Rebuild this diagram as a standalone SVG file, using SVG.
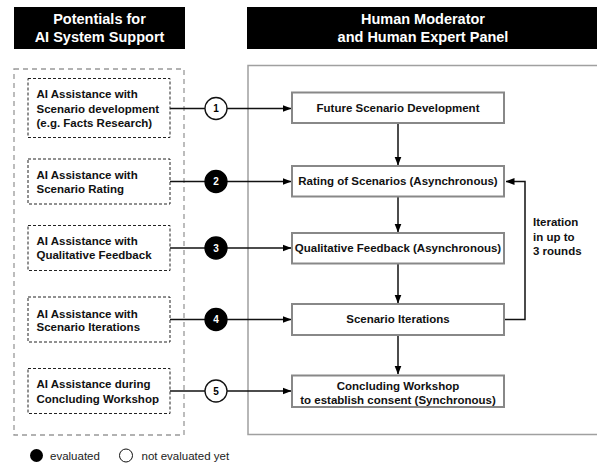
<svg xmlns="http://www.w3.org/2000/svg" width="597" height="466" viewBox="0 0 597 466">
<defs>
<marker id="arr" markerWidth="9" markerHeight="8" refX="8.5" refY="4" orient="auto" markerUnits="userSpaceOnUse">
<path d="M0,0.5 L9,4 L0,7.5 Z" fill="#000"/>
</marker>
<style>
text{font-family:"Liberation Sans",Arial,Helvetica,sans-serif;}
.hdr{fill:#fff;font-size:14.5px;font-weight:bold;text-anchor:middle;}
.lt{font-size:11.5px;font-weight:bold;fill:#111;}
.ct{font-size:11.5px;font-weight:bold;fill:#111;text-anchor:middle;}
.num{font-size:10px;font-weight:bold;text-anchor:middle;}
.leg{font-size:11.5px;fill:#222;}
.ai{fill:#fff;stroke:#222;stroke-width:1;stroke-dasharray:3,2;}
.step{fill:#fff;stroke:#888;stroke-width:2;}
.conn{fill:none;stroke:#111;stroke-width:1.5;}
</style>
</defs>
<rect width="597" height="466" fill="#fff"/>
<g id="header-left">
<rect x="14" y="7" width="171" height="42" fill="#000"/>
<text class="hdr" x="99.5" y="23.5">Potentials for</text>
<text class="hdr" x="99.5" y="41.5">AI System Support</text>
</g>
<g id="header-right">
<rect x="247" y="7" width="350" height="42" fill="#000"/>
<text class="hdr" x="423" y="23.5">Human Moderator</text>
<text class="hdr" x="423" y="41.5">and Human Expert Panel</text>
</g>
<g id="panel-left">
<rect x="14" y="69" width="170" height="366" fill="none" stroke="#999" stroke-width="1.3" stroke-dasharray="5,4"/>
</g>
<g id="panel-right">
<path d="M597,65.5 L248,65.5 L248,434.5 L597,434.5" fill="none" stroke="#a0a0a0" stroke-width="1.5"/>
</g>
<g id="connectors">
<line class="conn" x1="170" y1="108.5" x2="291" y2="108.5" marker-end="url(#arr)"/>
<line class="conn" x1="170" y1="181.5" x2="291" y2="181.5" marker-end="url(#arr)"/>
<line class="conn" x1="170" y1="248" x2="291" y2="248" marker-end="url(#arr)"/>
<line class="conn" x1="170" y1="319.5" x2="291" y2="319.5" marker-end="url(#arr)"/>
<line class="conn" x1="170" y1="391" x2="291" y2="391" marker-end="url(#arr)"/>
<line class="conn" x1="398" y1="123" x2="398" y2="165" marker-end="url(#arr)"/>
<line class="conn" x1="398" y1="197" x2="398" y2="232" marker-end="url(#arr)"/>
<line class="conn" x1="398" y1="264" x2="398" y2="303" marker-end="url(#arr)"/>
<line class="conn" x1="398" y1="335" x2="398" y2="374" marker-end="url(#arr)"/>
<path class="conn" d="M505,319.5 L525,319.5 L525,181.5 L506,181.5" marker-end="url(#arr)"/>
</g>
<g id="ai-1">
<rect class="ai" x="28" y="78.5" width="142" height="59"/>
<text class="lt" x="36.5" y="98">AI Assistance with</text>
<text class="lt" x="36.5" y="112.5">Scenario development</text>
<text class="lt" x="36.5" y="126.5">(e.g. Facts Research)</text>
</g>
<g id="ai-2">
<rect class="ai" x="28" y="159" width="142" height="45"/>
<text class="lt" x="36.5" y="179">AI Assistance with</text>
<text class="lt" x="36.5" y="193">Scenario Rating</text>
</g>
<g id="ai-3">
<rect class="ai" x="28" y="225.5" width="142" height="45"/>
<text class="lt" x="36.5" y="244.5">AI Assistance with</text>
<text class="lt" x="36.5" y="259">Qualitative Feedback</text>
</g>
<g id="ai-4">
<rect class="ai" x="28" y="297" width="142" height="45"/>
<text class="lt" x="36.5" y="317.5">AI Assistance with</text>
<text class="lt" x="36.5" y="331">Scenario Iterations</text>
</g>
<g id="ai-5">
<rect class="ai" x="28" y="368.5" width="142" height="45"/>
<text class="lt" x="36.5" y="388">AI Assistance during</text>
<text class="lt" x="36.5" y="403">Concluding Workshop</text>
</g>
<g id="badge-1">
<circle cx="216" cy="108.5" r="11" fill="#fff" stroke="#111" stroke-width="1.3"/>
<text class="num" x="216" y="112" fill="#000">1</text>
</g>
<g id="badge-2">
<circle cx="216" cy="181.5" r="11" fill="#000" stroke="#000" stroke-width="1.3"/>
<text class="num" x="216" y="185" fill="#fff">2</text>
</g>
<g id="badge-3">
<circle cx="216" cy="248" r="11" fill="#000" stroke="#000" stroke-width="1.3"/>
<text class="num" x="216" y="251.5" fill="#fff">3</text>
</g>
<g id="badge-4">
<circle cx="216" cy="319.5" r="11" fill="#000" stroke="#000" stroke-width="1.3"/>
<text class="num" x="216" y="323" fill="#fff">4</text>
</g>
<g id="badge-5">
<circle cx="216" cy="391" r="11" fill="#fff" stroke="#111" stroke-width="1.3"/>
<text class="num" x="216" y="394.5" fill="#000">5</text>
</g>
<g id="step-1">
<rect class="step" x="292" y="92.5" width="212" height="30.5"/>
<text class="ct" x="398" y="111.5">Future Scenario Development</text>
</g>
<g id="step-2">
<rect class="step" x="292" y="166" width="212" height="30.5"/>
<text class="ct" x="398" y="185">Rating of Scenarios (Asynchronous)</text>
</g>
<g id="step-3">
<rect class="step" x="292" y="233" width="212" height="30.5"/>
<text class="ct" x="398" y="252">Qualitative Feedback (Asynchronous)</text>
</g>
<g id="step-4">
<rect class="step" x="292" y="304" width="212" height="31"/>
<text class="ct" x="398" y="323">Scenario Iterations</text>
</g>
<g id="step-5">
<rect class="step" x="292" y="375.5" width="212" height="31.5"/>
<text class="ct" x="398" y="389.5">Concluding Workshop</text>
<text class="ct" x="398" y="403.5">to establish consent (Synchronous)</text>
</g>
<g id="loop-label">
<text class="lt" x="533" y="226">Iteration</text>
<text class="lt" x="533" y="241">in up to</text>
<text class="lt" x="533" y="255">3 rounds</text>
</g>
<g id="legend">
<circle cx="36.5" cy="455.5" r="6.5" fill="#000"/>
<text class="leg" x="50" y="459.5">evaluated</text>
<circle cx="126" cy="455.5" r="6.5" fill="#fff" stroke="#111" stroke-width="1"/>
<text class="leg" x="141.5" y="459.5">not evaluated yet</text>
</g>
</svg>
